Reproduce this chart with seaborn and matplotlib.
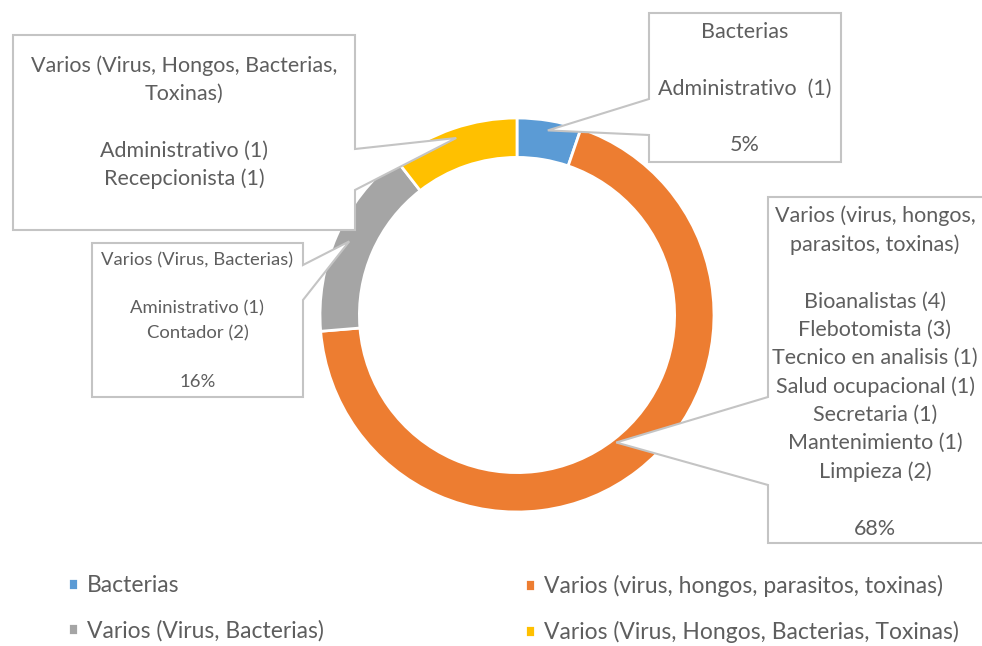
import numpy as np
import matplotlib
matplotlib.use("Agg")
import matplotlib.pyplot as plt
import seaborn as sns
from matplotlib.patches import Polygon

sns.set_theme(style="white")
plt.rcParams["font.family"] = ["Lato", "DejaVu Sans"]

# data: number of workers per exposure group
groups = ["Bacterias",
          "Varios (virus, hongos, parasitos, toxinas)",
          "Varios (Virus, Bacterias)",
          "Varios (Virus, Hongos, Bacterias, Toxinas)"]
workers = [1, 13, 3, 2]
colors = sns.color_palette(["#5B9BD5", "#ED7D31", "#A5A5A5", "#FFC000"])

# text of the callouts
callout_text = [
    "Bacterias\n\nAdministrativo  (1)\n\n5%",
    "Varios (virus, hongos,\nparasitos, toxinas)\n\nBioanalistas (4)\nFlebotomista (3)\n"
    "Tecnico en analisis (1)\nSalud ocupacional (1)\nSecretaria (1)\nMantenimiento (1)\nLimpieza (2)\n\n68%",
    "Varios (Virus, Bacterias)\n\nAministrativo (1)\nContador (2)\n\n16%",
    "Varios (Virus, Hongos, Bacterias,\nToxinas)\n\nAdministrativo (1)\nRecepcionista (1)\n",
]

# layout in pixels (y from top)
W, H = 982, 646
CX, CY, R = 517, 315, 197
# box: left, top, right, bottom, side of pointer, pointer base y1, y2,
# tip radius, font size, line spacing, text y offset
boxes = [
    (649, 13, 841, 162, "left", 99, 135, 0.95, 15.5, 1.51, 1),
    (768, 197, 995, 543, "left", 397, 485, 0.82, 15.5, 1.51, 2),
    (92, 243, 303, 397, "right", 265, 300, 0.93, 13.3, 1.64, 1),
    (13, 35, 355, 230, "right", 149, 190, 0.95, 15.5, 1.51, 4),
]
text_col = "#5E5E5E"
edge_col = "#C4C4C4"


def to_data(x, y):
    return ((x - CX) / R, (CY - y) / R)


fig = plt.figure(figsize=(W / 100, H / 100), dpi=100)
ax = fig.add_axes([(CX - R) / W, (H - CY - R) / H, 2 * R / W, 2 * R / H])
wedges, _ = ax.pie(workers, colors=colors, startangle=90, counterclock=False,
                   radius=1, wedgeprops=dict(width=0.2, edgecolor="white", linewidth=2))
ax.set_xlim(-1, 1)
ax.set_ylim(-1, 1)
ax.set_aspect("equal")
ax.axis("off")

for w, txt, b in zip(wedges, callout_text, boxes):
    L, T, Rt, B, side, y1, y2, rt, fs, ls, dy = b
    mid = np.deg2rad((w.theta1 + w.theta2) / 2)
    tip = (rt * np.cos(mid), rt * np.sin(mid))
    if side == "left":
        pts = [to_data(L, T), to_data(Rt, T), to_data(Rt, B), to_data(L, B),
               to_data(L, y2), tip, to_data(L, y1)]
    else:
        pts = [to_data(L, T), to_data(Rt, T), to_data(Rt, y1), tip,
               to_data(Rt, y2), to_data(Rt, B), to_data(L, B)]
    ax.add_patch(Polygon(pts, closed=True, facecolor="white", edgecolor=edge_col,
                         linewidth=1.5, zorder=3, clip_on=False))
    tx, ty = to_data((L + min(Rt, 982)) / 2, (T + B) / 2 + dy)
    ax.text(tx, ty, txt, ha="center", va="center", fontsize=fs, color=text_col,
            linespacing=ls, zorder=4, clip_on=False)

# legend: two columns placed side by side
legend_cols = [[0, 2], [1, 3]]
legend_x = [68, 525]
for idx, lx in zip(legend_cols, legend_x):
    leg = fig.legend([wedges[i] for i in idx], [groups[i] for i in idx],
                     loc="upper left", bbox_to_anchor=(lx / W, 1 - 575 / H),
                     frameon=False, fontsize=16.5, handlelength=0.43, handleheight=0.43,
                     handletextpad=0.4, labelspacing=1.05, borderpad=0, borderaxespad=0)
    for t in leg.get_texts():
        t.set_color(text_col)

fig.savefig("out.png", dpi=100)
